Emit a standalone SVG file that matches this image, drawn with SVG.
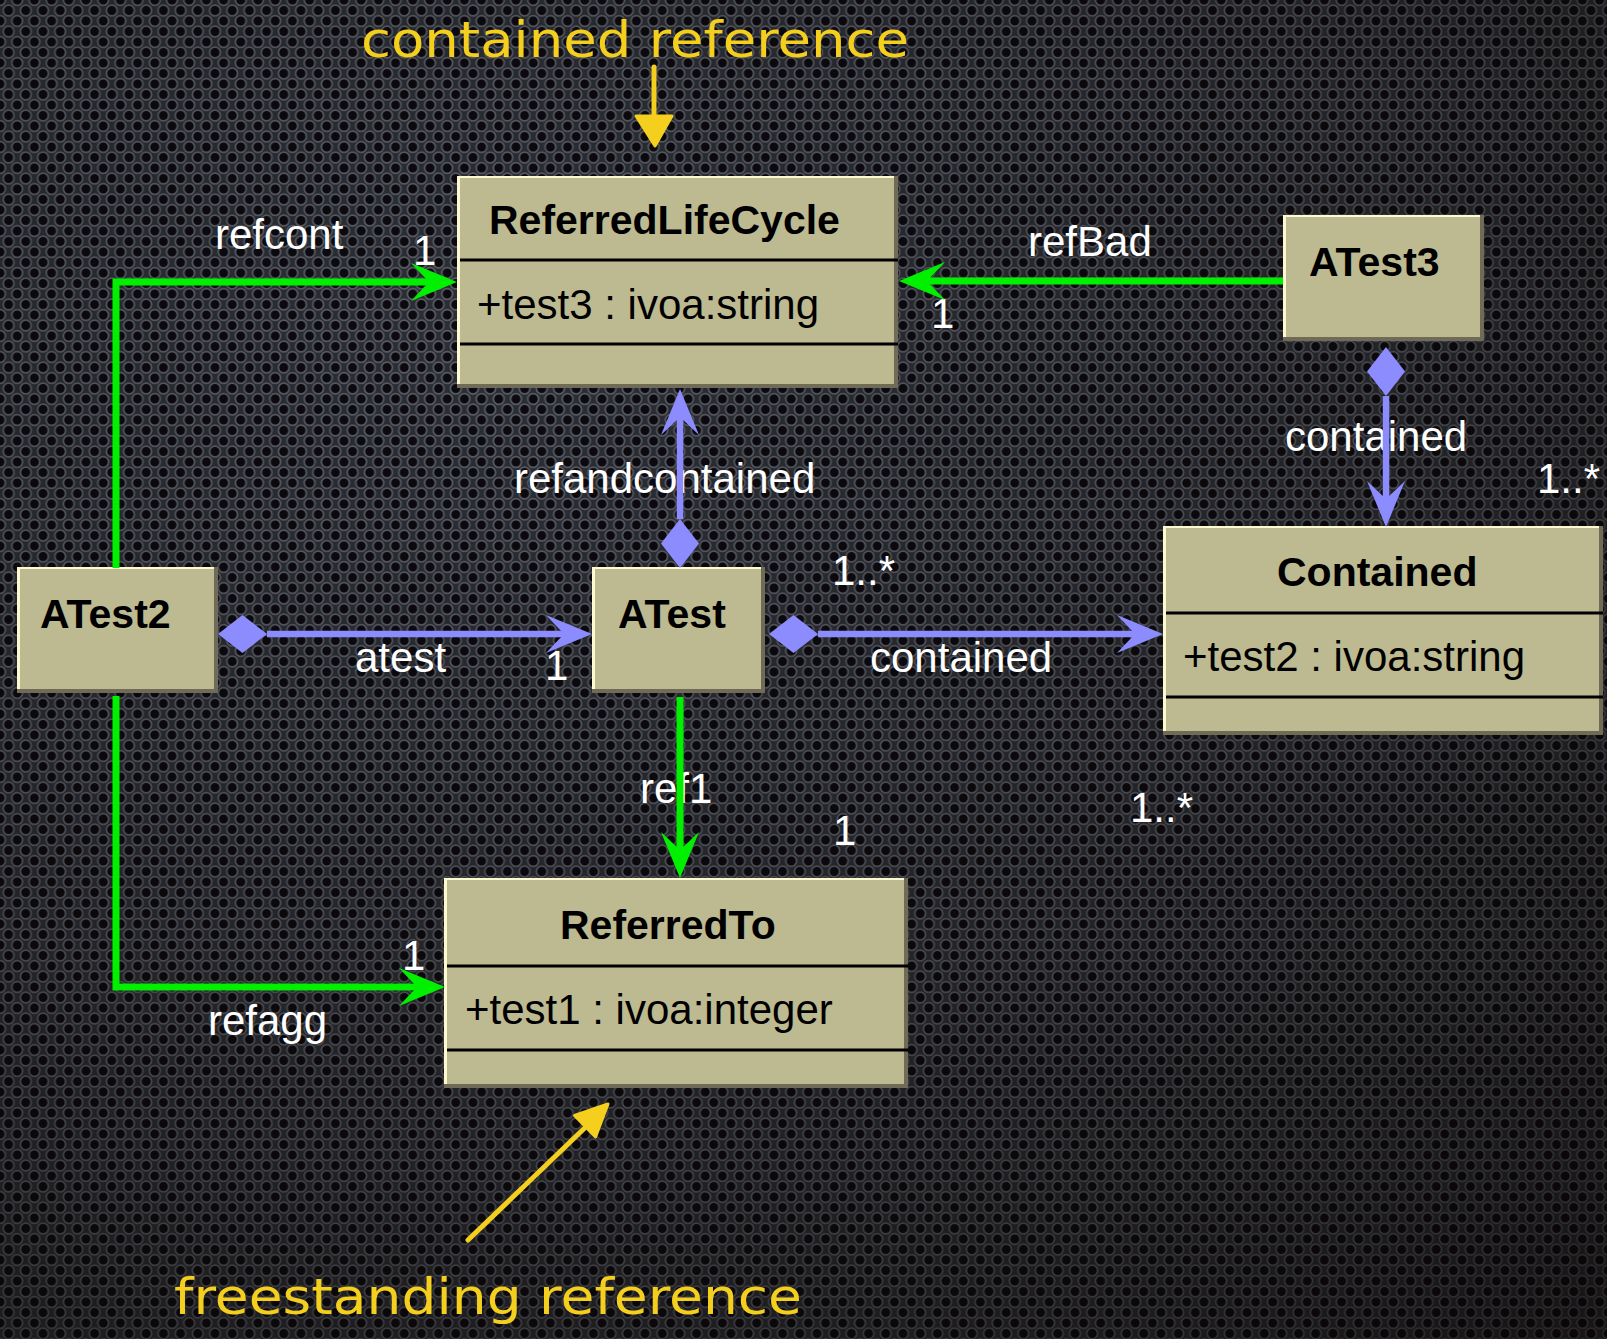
<svg xmlns="http://www.w3.org/2000/svg" width="1607" height="1339" viewBox="0 0 1607 1339">
<style>
.sh{fill:#6f6b57}
.hl{fill:#fdf9d0}
.bg{fill:#bdb990}
.dv{stroke:#000;stroke-width:3}
.title{font-family:"Liberation Sans",Arial,sans-serif;font-weight:bold;font-size:41px;fill:#000}
.attr{font-family:"Liberation Sans",Arial,sans-serif;font-size:42px;fill:#000}
.lbl{font-family:"Liberation Sans",Arial,sans-serif;font-size:42px;fill:#fff}
.green{stroke:#00f000;stroke-width:7;fill:none}
.blue{stroke:#8c8cff;stroke-width:6.5;fill:none}
.note{font-family:"DejaVu Sans",sans-serif;font-size:50px;fill:#f4cf1e}
.nline{stroke:#f4cf1e;stroke-width:5;fill:none;stroke-linecap:round}
</style>
<defs>
<pattern id="perf" patternUnits="userSpaceOnUse" width="17.2" height="21">
<rect width="17.2" height="21" fill="#2b2e34"/>
<g fill="#0c0a0f" stroke="#585c64" stroke-width="1.8">
<circle cx="0" cy="0" r="5.4"/><circle cx="17.2" cy="0" r="5.4"/>
<circle cx="0" cy="21" r="5.4"/><circle cx="17.2" cy="21" r="5.4"/>
<circle cx="8.6" cy="10.5" r="5.4"/>
</g>
</pattern>
<radialGradient id="vig" cx="0.3" cy="0.25" r="1" gradientUnits="objectBoundingBox">
<stop offset="0" stop-color="#000" stop-opacity="0"/>
<stop offset="0.55" stop-color="#0a0503" stop-opacity="0.25"/>
<stop offset="1" stop-color="#0a0503" stop-opacity="0.6"/>
</radialGradient>
<marker id="arrG" markerUnits="userSpaceOnUse" markerWidth="46" markerHeight="40" viewBox="0 -20 46 40" refX="28" refY="0" orient="auto">
<path d="M46,0 L0,-19 L18,0 L0,19 Z" fill="#00f000"/>
</marker>
<marker id="arrB" markerUnits="userSpaceOnUse" markerWidth="46" markerHeight="40" viewBox="0 -20 46 40" refX="28" refY="0" orient="auto">
<path d="M46,0 L0,-19 L18,0 L0,19 Z" fill="#8c8cff"/>
</marker>
<marker id="diaB" markerUnits="userSpaceOnUse" markerWidth="49" markerHeight="40" viewBox="0 -20 49 40" refX="49" refY="0" orient="auto">
<path d="M0,0 L24.5,-19 L49,0 L24.5,19 Z" fill="#8c8cff"/>
</marker>
</defs>

<rect width="1607" height="1339" fill="url(#perf)"/>
<rect width="1607" height="1339" fill="url(#vig)"/>

<g id="annotations">
<text class="note" x="361" y="57" textLength="548" lengthAdjust="spacingAndGlyphs">contained reference</text>
<line class="nline" x1="654" y1="67" x2="654" y2="120"/>
<polygon points="636,116 672,116 655,146" fill="#f4cf1e" stroke="#f4cf1e" stroke-width="3" stroke-linejoin="round"/>
<line class="nline" x1="468" y1="1240" x2="592" y2="1121"/>
<polygon points="608,1104 595.5,1137 574.5,1115.5" fill="#f4cf1e" stroke="#f4cf1e" stroke-width="3" stroke-linejoin="round"/>
<text class="note" x="174" y="1314" textLength="628" lengthAdjust="spacingAndGlyphs">freestanding reference</text>
</g>

<g id="node-ReferredLifeCycle" transform="translate(457,176)">
<rect class="sh" width="441" height="212"/><rect class="hl" width="437" height="208"/><rect class="bg" x="3" y="2" width="434" height="206"/>
<line class="dv" x1="3" y1="84" x2="441" y2="84"/><line class="dv" x1="3" y1="168" x2="441" y2="168"/>
<text class="title" x="32" y="58">ReferredLifeCycle</text>
<text class="attr" x="20" y="143">+test3 : ivoa:string</text>
</g>

<g id="node-ATest3" transform="translate(1283,215)">
<rect class="sh" width="201" height="126"/><rect class="hl" width="197" height="122"/><rect class="bg" x="3" y="2" width="194" height="120"/>
<text class="title" x="26" y="61">ATest3</text>
</g>

<g id="node-Contained" transform="translate(1163,526)">
<rect class="sh" width="440" height="209"/><rect class="hl" width="436" height="205"/><rect class="bg" x="3" y="2" width="433" height="203"/>
<line class="dv" x1="3" y1="87" x2="440" y2="87"/><line class="dv" x1="3" y1="171" x2="440" y2="171"/>
<text class="title" x="114" y="60">Contained</text>
<text class="attr" x="20" y="145">+test2 : ivoa:string</text>
</g>

<g id="node-ATest2" transform="translate(17,567)">
<rect class="sh" width="201" height="126"/><rect class="hl" width="197" height="122"/><rect class="bg" x="3" y="2" width="194" height="120"/>
<text class="title" x="23" y="61">ATest2</text>
</g>

<g id="node-ATest" transform="translate(592,567)">
<rect class="sh" width="173" height="126"/><rect class="hl" width="169" height="122"/><rect class="bg" x="3" y="2" width="166" height="120"/>
<text class="title" x="26" y="61">ATest</text>
</g>

<g id="node-ReferredTo" transform="translate(444,878)">
<rect class="sh" width="464" height="210"/><rect class="hl" width="460" height="206"/><rect class="bg" x="3" y="2" width="457" height="204"/>
<line class="dv" x1="3" y1="88" x2="464" y2="88"/><line class="dv" x1="3" y1="172" x2="464" y2="172"/>
<text class="title" x="116" y="61">ReferredTo</text>
<text class="attr" x="21" y="146">+test1 : ivoa:integer</text>
</g>

<g id="connectors">
<g id="labels">
<text class="lbl" x="215" y="249">refcont</text>
<text class="lbl" x="413" y="265">1</text>
<text class="lbl" x="1028" y="256">refBad</text>
<text class="lbl" x="931" y="328">1</text>
<text class="lbl" x="514" y="493">refandcontained</text>
<text class="lbl" x="1285" y="451">contained</text>
<text class="lbl" x="1537" y="493">1..*</text>
<text class="lbl" x="355" y="672">atest</text>
<text class="lbl" x="545" y="680">1</text>
<text class="lbl" x="832" y="585">1..*</text>
<text class="lbl" x="870" y="672">contained</text>
<text class="lbl" x="640" y="803">ref1</text>
<text class="lbl" x="833" y="845">1</text>
<text class="lbl" x="1130" y="822">1..*</text>
<text class="lbl" x="208" y="1035">refagg</text>
<text class="lbl" x="402" y="970">1</text>
</g>
<path id="c-refcont" class="green" d="M116,568 V282 H439" marker-end="url(#arrG)"/>
<path id="c-refBad" class="green" d="M1283,281 H917" marker-end="url(#arrG)"/>
<path id="c-refagg" class="green" d="M116,696 V987 H427" marker-end="url(#arrG)"/>
<path id="c-ref1" class="green" d="M680,697 V860" marker-end="url(#arrG)"/>
<path id="c-refandcontained" class="blue" d="M680,519 V407" marker-start="url(#diaB)" marker-end="url(#arrB)"/>
<path id="c-atest" class="blue" d="M267,634 H574" marker-start="url(#diaB)" marker-end="url(#arrB)"/>
<path id="c-contained1" class="blue" d="M818,634 H1145" marker-start="url(#diaB)" marker-end="url(#arrB)"/>
<path id="c-contained2" class="blue" d="M1386,396 V509" marker-start="url(#diaB)" marker-end="url(#arrB)"/>
</g>
</svg>
